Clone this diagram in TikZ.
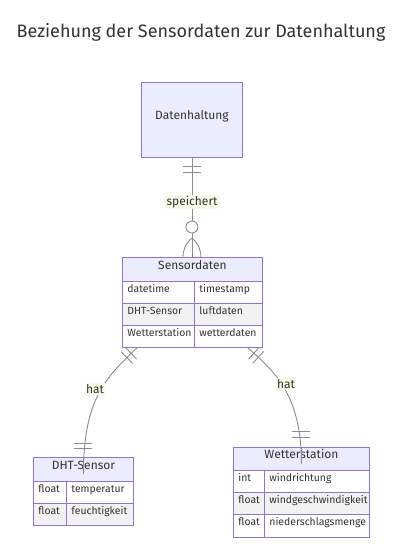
\documentclass[tikz,border=0pt]{standalone}
\usepackage{fontspec}
\setmainfont{Fira Sans}
\usetikzlibrary{decorations.markings,calc}
\definecolor{ent}{HTML}{ECECFF}
\definecolor{entb}{HTML}{9370DB}
\definecolor{rowg}{HTML}{F2F2F2}
\definecolor{lnk}{HTML}{8C8C8C}
\definecolor{lbl}{HTML}{F6FBE6}
\definecolor{txt}{HTML}{333333}
\tikzset{
  ent/.style={draw=entb, fill=ent, line width=0.9pt, inner sep=0pt, anchor=north west, text=txt, text height=8.5pt, text depth=8.5pt},
  hdr/.style={ent, minimum height=24pt, font=\fontsize{12}{14}\selectfont},
  cell/.style={draw=entb, line width=0.9pt, anchor=north west, minimum height=22pt, inner ysep=0pt, inner xsep=5pt, align=left, text=txt, font=\fontsize{10.4}{12}\selectfont, text height=7pt, text depth=7pt},
  whiterow/.style={cell, fill=white},
  greyrow/.style={cell, fill=rowg},
  lab/.style={fill=lbl, inner sep=1.5pt, text=txt, font=\fontsize{12}{14}\selectfont},
  rel/.style={draw=lnk, line width=0.9pt},
  crossstart/.style={postaction={decorate, decoration={markings,
      mark=at position 8pt with {\draw[lnk, line width=0.9pt] (0,-8pt) -- (0,8pt);},
      mark=at position 14pt with {\draw[lnk, line width=0.9pt] (0,-8pt) -- (0,8pt);}}}}
}
\begin{document}
\begin{tikzpicture}[x=1pt,y=-1pt]
\useasboundingbox (0,0) rectangle (402,557);
\fill[white] (0,0) rectangle (402,557);

\node[text=txt, font=\fontsize{18}{20}\selectfont] (title) at (201,32) {Beziehung der Sensordaten zur Datenhaltung};

% Datenhaltung
\node[ent, minimum width=101pt, minimum height=75pt, font=\fontsize{12}{14}\selectfont] (dat) at (141,82) {Datenhaltung};

% Sensordaten
\node[hdr, minimum width=140pt] (sd) at (122,257) {Sensordaten};
\node[whiterow, text width=62pt] (sa1) at (122,281) {datetime};
\node[whiterow, text width=58pt] (sb1) at (194,281) {timestamp};
\node[greyrow, text width=62pt] (sa2) at (122,303) {DHT-Sensor};
\node[greyrow, text width=58pt] (sb2) at (194,303) {luftdaten};
\node[whiterow, text width=62pt] (sa3) at (122,325) {Wetterstation};
\node[whiterow, text width=58pt] (sb3) at (194,325) {wetterdaten};

% DHT-Sensor
\node[hdr, minimum width=100pt] (dh) at (33,457) {DHT-Sensor};
\node[whiterow, text width=23pt] (da1) at (33,481) {float};
\node[whiterow, text width=57pt] (db1) at (66,481) {temperatur};
\node[greyrow, text width=23pt] (da2) at (33,503) {float};
\node[greyrow, text width=57pt] (db2) at (66,503) {feuchtigkeit};

% Wetterstation
\node[hdr, minimum width=136pt, minimum height=23pt] (ws) at (233,447) {Wetterstation};
\node[whiterow, text width=21pt] (wa1) at (233,470) {int};
\node[whiterow, text width=95pt] (wb1) at (264,470) {windrichtung};
\node[greyrow, text width=21pt] (wa2) at (233,492) {float};
\node[greyrow, text width=95pt] (wb2) at (264,492) {windgeschwindigkeit};
\node[whiterow, text width=21pt, minimum height=23pt] (wa3) at (233,514) {float};
\node[whiterow, text width=95pt, minimum height=23pt] (wb3) at (264,514) {niederschlagsmenge};

% Relationship: Datenhaltung ||--o{ Sensordaten
\draw[rel] (dat.south) -- (dat.south |- sd.north);
\coordinate (s1) at ($(dat.south)+(0,9)$);
\coordinate (s2) at ($(dat.south)+(0,15)$);
\draw[rel] ($(s1)+(-9,0)$) -- ($(s1)+(9,0)$);
\draw[rel] ($(s2)+(-9,0)$) -- ($(s2)+(9,0)$);
\coordinate (e0) at (dat.south |- sd.north);
\draw[rel] ($(e0)+(0,-19)$) .. controls ($(e0)+(-7,-13)$) and ($(e0)+(-9,-6)$) .. ($(e0)+(-9,0)$);
\draw[rel] ($(e0)+(0,-19)$) .. controls ($(e0)+(7,-13)$) and ($(e0)+(9,-6)$) .. ($(e0)+(9,0)$);
\node[rel, circle, fill=white, minimum size=12pt, inner sep=0pt] (c0) at ($(e0)+(0,-30)$) {};
\node[lab] (l0) at (192,202) {speichert};

% Sensordaten ||--|| DHT-Sensor
\draw[rel, crossstart] ([xshift=15pt]sa3.south west) .. controls (105,378) and (dh.north |- 0,400) .. ([yshift=-17pt]dh.north) -- (dh.north);
\draw[rel] ($(dh.north)+(-9,-9)$) -- ($(dh.north)+(9,-9)$);
\draw[rel] ($(dh.north)+(-9,-14)$) -- ($(dh.north)+(9,-14)$);
\node[lab] (l1) at (95,389) {hat};

% Sensordaten ||--|| Wetterstation
\draw[rel, crossstart] ([xshift=-15pt]sb3.south east) .. controls (275,372) and (ws.north |- 0,395) .. ([yshift=-17pt]ws.north) -- (ws.north);
\draw[rel] ($(ws.north)+(-9,-10)$) -- ($(ws.north)+(9,-10)$);
\draw[rel] ($(ws.north)+(-9,-16)$) -- ($(ws.north)+(9,-16)$);
\node[lab] (l2) at (286,384) {hat};
\end{tikzpicture}
\end{document}
